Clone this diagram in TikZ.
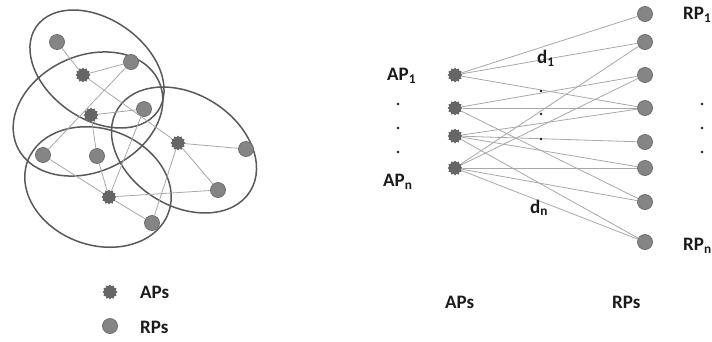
\documentclass[tikz,border=0pt]{standalone}
\usepackage{fontspec}
\setmainfont{Carlito}
\usetikzlibrary{shapes.geometric}
\definecolor{apgray}{HTML}{666666}
\definecolor{rpgray}{HTML}{858585}
\definecolor{rpline}{HTML}{6E6E6E}
\definecolor{linkgray}{HTML}{A8A8A8}
\definecolor{zonegray}{HTML}{595959}
\definecolor{txtgray}{HTML}{1A1A1A}

\begin{document}
\begin{tikzpicture}[x=1pt,y=-1pt,
  ap/.style={shape=star,star points=12,star point ratio=1.25,minimum size=15pt,inner sep=0pt,fill=apgray},
  rp/.style={shape=circle,minimum size=15pt,inner sep=0pt,fill=rpgray,draw=rpline,line width=0.8pt},
  link/.style={draw=linkgray,line width=0.8pt},
  zone/.style={draw=zonegray,line width=1.5pt},
  lbl/.style={font=\bfseries\fontsize{19}{20}\selectfont,text=txtgray,inner sep=0pt,anchor=west}]
  \useasboundingbox (0,0) rectangle (712,341);

  % coverage zones
  \draw[zone] (97,69) ellipse [x radius=74,y radius=50,rotate=-35];
  \draw[zone] (88,114) ellipse [x radius=78,y radius=58,rotate=25];
  \draw[zone] (184,150) ellipse [x radius=78,y radius=56,rotate=-32];
  \draw[zone] (98,187) ellipse [x radius=75,y radius=58,rotate=-20];

  % left: network
  \node[rp] (r1) at (57,42) {};
  \node[rp] (r2) at (131,62) {};
  \node[rp] (r3) at (144,109) {};
  \node[rp] (r4) at (43,155) {};
  \node[rp] (r5) at (97,156) {};
  \node[rp] (r6) at (246,149) {};
  \node[rp] (r7) at (218,190) {};
  \node[rp] (r8) at (152,223) {};
  \node[ap] (a1) at (83,75) {};
  \node[ap] (a2) at (91,115) {};
  \node[ap] (a3) at (178,143) {};
  \node[ap] (a4) at (109,197) {};

  \path [link] (r1) edge (a1);
  \path [link] (a1) edge (r2);
  \path [link] (a1) edge (a3);
  \path [link] (r2) edge (r4);
  \path [link] (a2) edge (r3);
  \path [link] (a2) edge (r5);
  \path [link] (r3) edge (a4);
  \path [link] (a3) edge (r6);
  \path [link] (a3) edge (r7);
  \path [link] (a3) edge (r8);
  \path [link] (a4) edge (r4);
  \path [link] (a4) edge (r5);
  \path [link] (a4) edge (r7);
  \path [link] (a4) edge (r8);

  % legend
  \node[ap] (legap) at (110,292) {};
  \node[lbl] (legaptext) at (140,292) {APs};
  \node[rp] (legrp) at (110,326) {};
  \node[lbl] (legrptext) at (140,327) {RPs};

  % right: bipartite view
  \node[ap] (p1) at (455,75) {};
  \node[ap] (p2) at (455,108) {};
  \node[ap] (p3) at (455,136) {};
  \node[ap] (p4) at (455,168) {};
  \node[rp] (q1) at (645,14) {};
  \node[rp] (q2) at (645,42) {};
  \node[rp] (q3) at (645,75) {};
  \node[rp] (q4) at (645,108) {};
  \node[rp] (q5) at (645,142) {};
  \node[rp] (q6) at (645,168) {};
  \node[rp] (q7) at (645,202) {};
  \node[rp] (q8) at (645,242) {};

  \path [link] (p1) edge (q1);
  \path [link] (p1) edge (q2);
  \path [link] (p1) edge (q4);
  \path [link] (p2) edge (q3);
  \path [link] (p2) edge (q4);
  \path [link] (p2) edge (q7);
  \path [link] (p3) edge (q4);
  \path [link] (p3) edge (q5);
  \path [link] (p3) edge (q6);
  \path [link] (p3) edge (q8);
  \path [link] (p4) edge (q2);
  \path [link] (p4) edge (q3);
  \path [link] (p4) edge (q6);
  \path [link] (p4) edge (q7);
  \path [link] (p4) edge (q8);

  \node[lbl] (apone) at (387,76) {AP\textsubscript{1}};
  \node[lbl] (apn) at (383,182) {AP\textsubscript{n}};
  \node[lbl] (rpone) at (683,15) {RP\textsubscript{1}};
  \node[lbl] (rpn) at (683,246) {RP\textsubscript{n}};
  \node[lbl] (done) at (537,58) {d\textsubscript{1}};
  \node[lbl] (dn) at (530,208) {d\textsubscript{n}};
  \node[lbl] (apcol) at (445,302) {APs};
  \node[lbl] (rpcol) at (612,302) {RPs};

  \foreach \y in {104,128,152} {
    \fill[txtgray] (398,\y) circle (1.3);
    \fill[txtgray] (702,\y) circle (1.3);
  }
  \foreach \y in {91,114,139}
    \fill[txtgray] (541,\y) circle (1.3);
\end{tikzpicture}
\end{document}
